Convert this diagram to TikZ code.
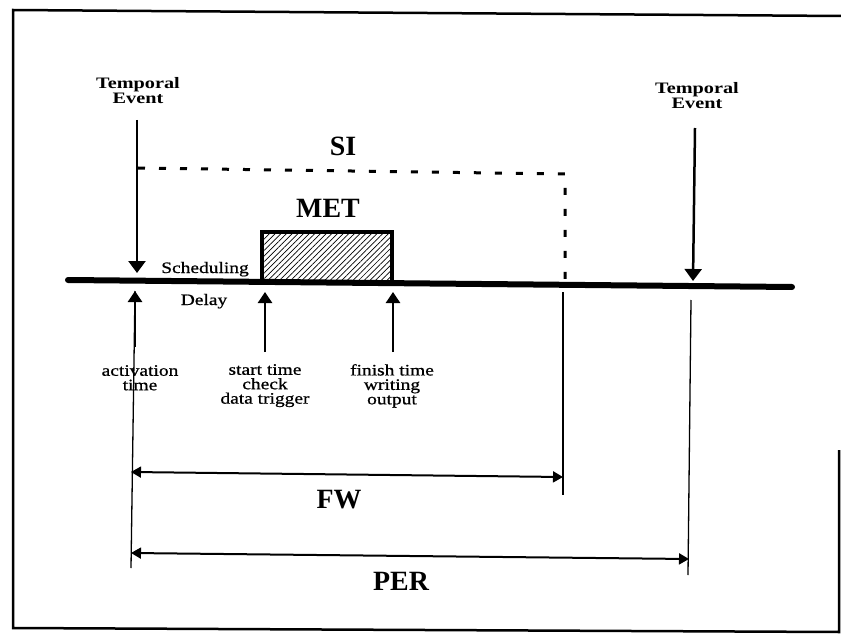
\documentclass[tikz,border=0pt]{standalone}
\usepackage{fontspec}
\setmainfont{Liberation Serif}
\newfontfamily\widefont[FakeStretch=1.27]{Liberation Serif}
\newfontfamily\widereg[FakeStretch=1.22,FakeBold=0.8]{Liberation Serif}
\usetikzlibrary{arrows.meta,patterns.meta}
\newcommand\mytightlines{\setlength{\lineskiplimit}{-100pt}\setlength{\lineskip}{0pt}}
\tikzset{
  frameln/.style={line width=2.5bp},
  timeln/.style={line width=6bp, line cap=round},
  evarrow/.style={line width=2.5bp, -{Triangle[length=12bp,width=17bp]}},
  uparrow/.style={line width=2.5bp, -{Triangle[length=11bp,width=14bp]}},
  dimarrow/.style={line width=2bp, {Triangle[length=10bp,width=11bp]}-{Triangle[length=10bp,width=11bp]}},
  siline/.style={line width=3bp, dash pattern=on 7bp off 14bp},
  vline/.style={line width=1.3bp},
  biglbl/.style={font=\bfseries\fontsize{28}{28}\selectfont, inner sep=0, anchor=base},
  evlbl/.style={font=\widefont\bfseries\fontsize{16}{15}\selectfont\mytightlines, align=center, inner sep=0, anchor=north},
  lbl/.style={font=\widereg\fontsize{16}{14.5}\selectfont\mytightlines, align=center, inner sep=0, anchor=north},
  onelbl/.style={font=\widereg\fontsize{16}{14}\selectfont, inner sep=0, anchor=base},
  metbox/.style={draw, line width=3.5bp, pattern={Lines[angle=45,distance=4bp,line width=0.7bp]}, minimum width=130bp, minimum height=50bp, inner sep=0},
}
\begin{document}
\begin{tikzpicture}[x=1bp,y=-1bp]
\useasboundingbox (0,0) rectangle (841,639);
% frame
\coordinate (f1) at (13,10);
\coordinate (f2) at (841,16);
\coordinate (f3) at (13,628);
\coordinate (f4) at (839,632);
\coordinate (f5) at (839,450);
\draw[frameln] (f2) -- (f1) -- (f3) -- (f4) -- (f5);

% time line
\coordinate (tl) at (68,280);
\coordinate (tr) at (792,287);
\draw[timeln] (tl) -- (tr);

% MET box
\node[metbox] (box) at (327,257) {};
\node[biglbl] (met) at (328,218) {MET};

% temporal events
\node[evlbl] (te1) at (138,77) {Temporal\\Event};
\node[evlbl] (te2) at (697,82) {Temporal\\Event};
\coordinate (e1a) at (137,120);
\coordinate (e1b) at (137,273);
\coordinate (e2a) at (695,128);
\coordinate (e2b) at (693,281);
\draw[evarrow] (e1a) -- (e1b);
\draw[evarrow] (e2a) -- (e2b);

% SI
\coordinate (s1) at (138,168);
\coordinate (s2) at (565,174);
\coordinate (s3) at (565,280);
\draw[siline] (s1) -- (s2) -- (s3);
\node[biglbl] (si) at (343,156) {SI};

% scheduling delay
\node[onelbl] (sched) at (205,273) {Scheduling};
\node[onelbl] (delay) at (204,305) {Delay};

% activation
\coordinate (a0) at (135,347);
\coordinate (a1) at (135,291);
\coordinate (a2) at (131,568);
\draw[uparrow] (a0) -- (a1);
\draw[vline] (a1) -- (a2);
\node[lbl] (act) at (140,365) {activation\\time};

% start / finish
\coordinate (st0) at (265,352);
\coordinate (st1) at (265,292);
\draw[uparrow] (st0) -- (st1);
\node[lbl] (start) at (265,364) {start time\\check\\data trigger};
\coordinate (fi0) at (393,352);
\coordinate (fi1) at (393,292);
\draw[uparrow] (fi0) -- (fi1);
\node[lbl] (finish) at (392,364) {finish time\\writing\\output};

% FW / PER end lines
\coordinate (fw0) at (563,292);
\coordinate (fw1) at (563,495);
\draw[vline] (fw0) -- (fw1);
\coordinate (p0) at (691,300);
\coordinate (p1) at (688,575);
\draw[vline] (p0) -- (p1);

% dimension arrows
\coordinate (fwa) at (131,472);
\coordinate (fwb) at (563,477);
\draw[dimarrow] (fwa) -- (fwb);
\node[biglbl] (fw) at (339,508) {FW};
\coordinate (pa) at (131,553);
\coordinate (pb) at (689,559);
\draw[dimarrow] (pa) -- (pb);
\node[biglbl] (per) at (401,590) {PER};
\end{tikzpicture}
\end{document}
